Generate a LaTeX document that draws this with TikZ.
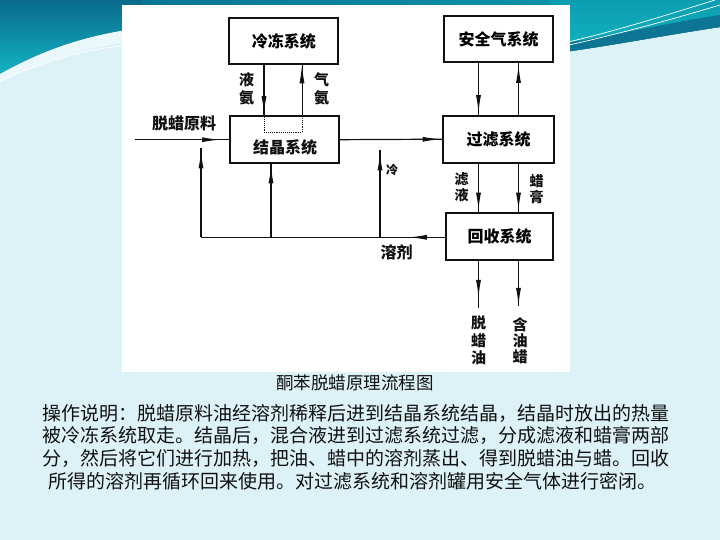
\documentclass[tikz,border=0pt]{standalone}
\usepackage{fontspec}
\newfontfamily\cjk{Noto Sans CJK SC}
\usetikzlibrary{arrows.meta,decorations.markings,calc}
\definecolor{bgc}{HTML}{DDF2F7}
\definecolor{tealdark}{HTML}{0B6A8C}
\definecolor{teallight}{HTML}{12B4C2}
\definecolor{tealmid}{HTML}{0C9DB0}
\definecolor{bandc}{HTML}{EAF8FB}
\definecolor{ink}{HTML}{111111}
\tikzset{
  box/.style={draw=ink, line width=1.8pt, fill=white, minimum width=109pt, minimum height=46pt, inner sep=0pt, font=\cjk\bfseries\fontsize{16}{18}\selectfont},
  flow/.style={draw=ink, line width=1.2pt},
  marr/.style={postaction={decorate}, decoration={markings, mark=at position #1 with {\arrow{Latex[length=18pt,width=5pt]}}}},
  lbl/.style={font=\cjk\bfseries\fontsize{15}{17.5}\selectfont, align=center, inner sep=0pt, text=ink},
  body/.style={font=\cjk\fontsize{19}{22}\selectfont, anchor=west, inner sep=0pt, text=ink},
}
\begin{document}
\begin{tikzpicture}[x=1pt,y=-1pt]
\useasboundingbox (0,0) rectangle (720,540);
% background
\fill[bgc] (0,0) rectangle (720,540);
\fill[left color=tealdark, right color=tealmid] (0,0) rectangle (720,8);
\fill[top color=tealdark, bottom color=teallight] (0,0) -- (140,0) -- (140,28) .. controls (80,36) and (40,52) .. (0,74) -- cycle;
\fill[bandc] (0,74) .. controls (40,52) and (80,36) .. (140,28) -- (140,40) .. controls (80,48) and (40,62) .. (0,82) -- cycle;
\draw[white, line width=0.8pt] (0,81) .. controls (40,63) and (80,50) .. (122,46);
\fill[top color=tealmid, bottom color=teallight] (550,0) -- (720,0) -- (720,27) .. controls (660,36) and (610,46) .. (550,54) -- cycle;
\fill[tealdark!85!teallight] (550,45) .. controls (610,37) and (660,24) .. (720,15) -- (720,27) .. controls (660,36) and (610,46) .. (550,54) -- cycle;
\draw[white, line width=0.7pt] (560,44) .. controls (620,30) and (670,14) .. (715,0);
\draw[white, line width=0.7pt] (560,47) .. controls (620,34) and (680,17) .. (720,5);
% white picture area
\fill[white] (122,5) rectangle (570,372);

% boxes
\node[box] (ld) at (283.8,41.2) {冷冻系统};
\node[box] (aq) at (498.7,39.3) {安全气系统};
\node[box, minimum height=47pt] (jj) at (284.2,139.7) {};
\node[lbl, font=\cjk\bfseries\fontsize{16}{18}\selectfont] (jjt) at (285,147) {结晶系统};
\node[box, minimum width=110.7pt, minimum height=47pt] (gl) at (498.7,139.2) {过滤系统};
\node[box, minimum width=107.6pt, minimum height=46.7pt] (hs) at (499.5,236.7) {回收系统};

% helper x positions
\coordinate (xA) at (264,0);
\coordinate (xB) at (302,0);
\coordinate (xL) at (478.5,0);
\coordinate (xR) at (518.5,0);
\coordinate (feed) at (135,139.7);
\coordinate (bl) at (201,237.3);
\coordinate (tl) at (201,148.3);
\coordinate (bm) at (271,237.3);
\coordinate (br) at (380,237.3);
\coordinate (tr) at (380,150);
\coordinate (oL) at (478.5,308);
\coordinate (oR) at (518.5,306);

% refrigeration
\draw[flow, marr=49pt] (ld.south -| xA) -- (jj.north -| xA);
\draw[ink, line width=0.9pt, densely dotted] (jj.north -| xA) -- ++(0,17) -| (jj.north -| xB);
\draw[ink, line width=0.8pt, marr=50pt] (jj.north -| xB) -- (ld.south -| xB);
% feed and main flow
\draw[flow, marr=85pt] (feed) -- (jj.west);
\draw[flow, marr=101pt] (jj.east) -- (gl.west);
% solvent loop
\draw[flow, marr=36pt] (hs.west |- bl) -- (bl);
\draw[flow, marr=87pt] (bl) -- (tl);
\draw[flow, marr=72pt] (bm) -- (jj.south -| bm);
\draw[flow, marr=85pt] (br) -- (tr);
% safety gas
\draw[flow, marr=50pt] (aq.south -| xL) -- (gl.north -| xL);
\draw[flow, marr=50pt] (gl.north -| xR) -- (aq.south -| xR);
% filter to recovery
\draw[flow, marr=47pt] (gl.south -| xL) -- (hs.north -| xL);
\draw[flow, marr=47pt] (gl.south -| xR) -- (hs.north -| xR);
% outputs
\draw[flow, marr=37pt] (hs.south -| xL) -- (oL);
\draw[flow, marr=45pt] (hs.south -| xR) -- (oR);

% labels
\node[lbl] (l1) at (246.7,89) {液\\氨};
\node[lbl] (l2) at (321.7,89) {气\\氨};
\node[lbl, font=\cjk\bfseries\fontsize{16}{18}\selectfont] (l3) at (184,123) {脱蜡原料};
\node[lbl, font=\cjk\bfseries\fontsize{12}{14}\selectfont] (l4) at (392,170) {冷};
\node[lbl, font=\cjk\bfseries\fontsize{16}{18}\selectfont] (l5) at (396.5,252) {溶剂};
\node[lbl, font=\cjk\bfseries\fontsize{14}{15.5}\selectfont] (l6) at (461.7,187) {滤\\液};
\node[lbl, font=\cjk\bfseries\fontsize{14}{15.5}\selectfont] (l7) at (536.7,189) {蜡\\膏};
\node[lbl, font=\cjk\bfseries\fontsize{15}{17.5}\selectfont] (l8) at (478.5,340.5) {脱\\蜡\\油};
\node[lbl, font=\cjk\bfseries\fontsize{15}{16}\selectfont] (l9) at (520,341) {含\\油\\蜡};

% caption and text
\node[lbl, font=\cjk\fontsize{17.5}{20}\selectfont] (cap) at (355,383) {酮苯脱蜡原理流程图};
\node[body] (t1) at (42,413) {操作说明：脱蜡原料油经溶剂稀释后进到结晶系统结晶，结晶时放出的热量};
\node[body] (t2) at (42,435.5) {被冷冻系统取走。结晶后，混合液进到过滤系统过滤，分成滤液和蜡膏两部};
\node[body] (t3) at (42,458) {分，然后将它们进行加热，把油、蜡中的溶剂蒸出、得到脱蜡油与蜡。回收};
\node[body] (t4) at (48,481) {所得的溶剂再循环回来使用。对过滤系统和溶剂罐用安全气体进行密闭。};
\end{tikzpicture}
\end{document}
